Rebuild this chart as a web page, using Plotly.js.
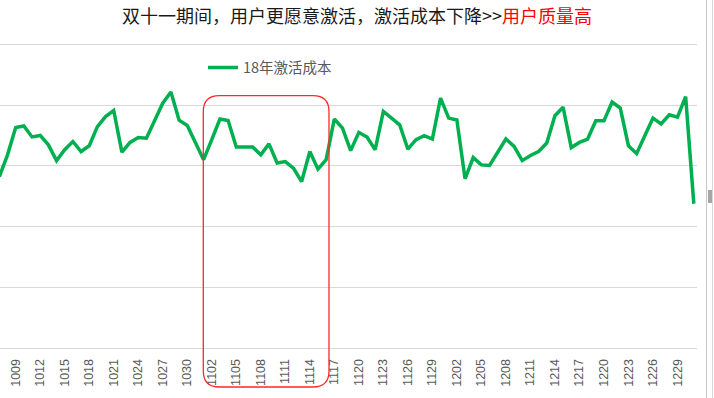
<!DOCTYPE html>
<html>
<head>
<meta charset="utf-8">
<script src="https://cdn.plot.ly/plotly-3.0.1.min.js"></script>
<style>html,body{margin:0;padding:0;background:#fff;}#chart{width:714px;height:398px;}</style>
</head>
<body>
<div id="chart"></div>
<script>
// Dates (MMDD) of each point
const dates = [
  "1007","1008","1009","1010","1011","1012","1013","1014","1015","1016","1017","1018","1019","1020",
  "1021","1022","1023","1024","1025","1026","1027","1028","1029","1030","1031",
  "1101","1102","1103","1104","1105","1106","1107","1108","1109","1110","1111","1112","1113","1114",
  "1115","1116","1117","1118","1119","1120","1121","1122","1123","1124","1125","1126","1127","1128",
  "1129","1130",
  "1201","1202","1203","1204","1205","1206","1207","1208","1209","1210","1211","1212","1213","1214",
  "1215","1216","1217","1218","1219","1220","1221","1222","1223","1224","1225","1226","1227","1228",
  "1229","1230","1231"
];
// 18年激活成本
const cost2018 = [
  5.64,6.36,7.26,7.31,6.95,7.00,6.69,6.17,6.53,6.80,6.47,6.66,7.29,7.62,7.82,6.45,6.77,6.93,6.91,7.51,8.06,8.43,7.50,7.33,6.78,
  6.20,6.86,7.54,7.49,6.62,6.62,6.62,6.36,6.72,6.09,6.14,5.92,5.48,6.47,5.89,6.20,7.54,7.24,6.50,7.10,6.95,6.53,7.79,7.57,7.35,6.55,6.86,6.99,6.88,8.23,
  7.57,7.51,5.57,6.27,6.03,6.01,6.42,6.88,6.64,6.17,6.34,6.47,6.75,7.65,7.93,6.60,6.77,6.88,7.48,7.48,8.10,7.90,6.66,6.40,6.99,7.57,7.38,7.68,7.60,8.28,4.75
];
// Tick labels shown on the x axis
const tickLabels = [
  "1009","1012","1015","1018","1021","1024","1027","1030","1102","1105","1108","1111","1114","1117",
  "1120","1123","1126","1129","1202","1205","1208","1211","1214","1217","1220","1223","1226","1229"
];
const seriesName = "18年激活成本";
const titleMain = "双十一期间，用户更愿意激活，激活成本下降>>";
const titleHighlight = "用户质量高";

const W = 697, T = 41, B = 348; // plot area in px
const px = x => x / W;
const py = y => (B - y) / (B - T);

function roundRect(x0, y0, x1, y1, r) {
  const rx = r / W, ry = r / (B - T);
  const L = px(x0), R = px(x1), Tp = py(y0), Bt = py(y1);
  return `M ${L+rx},${Tp} L ${R-rx},${Tp} Q ${R},${Tp} ${R},${Tp-ry} L ${R},${Bt+ry} Q ${R},${Bt} ${R-rx},${Bt} ` +
         `L ${L+rx},${Bt} Q ${L},${Bt} ${L},${Bt+ry} L ${L},${Tp-ry} Q ${L},${Tp} ${L+rx},${Tp} Z`;
}

const trace = {
  x: dates, y: cost2018, type: "scatter", mode: "lines", name: seriesName,
  line: {color: "#00b050", width: 3.5}
};

const layout = {
  width: 714, height: 398,
  margin: {l: 0, r: 714 - W, t: T, b: 398 - B, pad: 0},
  paper_bgcolor: "#fff", plot_bgcolor: "#fff",
  title: {
    text: titleMain + '<span style="color:#ff0000">' + titleHighlight + '</span>',
    font: {family: "Noto Sans CJK SC", size: 18, color: "#1a1a1a"},
    x: 0.5, xref: "container", y: 1 - 17/398, yref: "container", yanchor: "middle"
  },
  showlegend: true,
  legend: {
    orientation: "h", x: px(203), xanchor: "left", y: py(67.5), yanchor: "middle",
    font: {family: "Noto Sans CJK SC", size: 14.5, color: "#595959"},
    bgcolor: "rgba(0,0,0,0)"
  },
  xaxis: {
    type: "category", range: [0.08, 85.39],
    tickvals: tickLabels, ticktext: tickLabels, tickangle: -90,
    tickfont: {family: "Liberation Sans, Arial", size: 12.5, color: "#595959"},
    ticklabelstandoff: 5,
    showgrid: false, zeroline: false, showline: true, linecolor: "#d9d9d9", linewidth: 1,
    ticks: "", fixedrange: true
  },
  yaxis: {
    range: [0, 10.109], tickvals: [0, 2, 4, 6, 8, 10], showticklabels: false, showgrid: true,
    gridcolor: "#d9d9d9", gridwidth: 1, zeroline: false, showline: false, ticks: "", fixedrange: true
  },
  shapes: [
    {type: "path", xref: "paper", yref: "paper", path: roundRect(203.3, 95.7, 329, 387, 16),
     line: {color: "rgb(255,40,40)", width: 1.3}, layer: "above"},
    {type: "line", xref: "paper", yref: "paper", x0: px(706.5), x1: px(706.5), y0: py(0), y1: py(398),
     line: {color: "#c6c6c6", width: 1}},
    {type: "line", xref: "paper", yref: "paper", x0: px(712.5), x1: px(712.5), y0: py(0), y1: py(398),
     line: {color: "#d6d6d6", width: 1}},
    {type: "rect", xref: "paper", yref: "paper", x0: px(708), x1: px(712), y0: py(190), y1: py(203),
     fillcolor: "#a6a6a6", line: {width: 0}}
  ]
};

Plotly.newPlot("chart", [trace], layout, {displayModeBar: false, staticPlot: true});
</script>
</body>
</html>
